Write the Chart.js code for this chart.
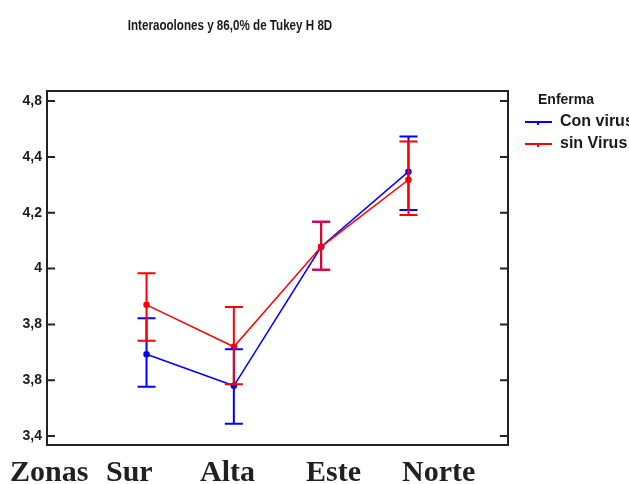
<!DOCTYPE html>
<html>
<head>
<meta charset="utf-8">
<script src="https://cdn.jsdelivr.net/npm/chart.js@4.4.0/dist/chart.umd.min.js"></script>
<style>
  body { margin: 0; background: #fff; }
  #wrap { position: relative; width: 629px; height: 484px; }
  .zona { position: absolute; top: 454px; font: bold 30px "Liberation Serif", serif; color: #231f20; }
</style>
</head>
<body>
<div id="wrap">
  <canvas id="myChart" width="629" height="484"></canvas>
  <div class="zona" style="left:10px">Zonas</div>
  <div class="zona" style="left:106px">Sur</div>
  <div class="zona" style="left:200px">Alta</div>
  <div class="zona" style="left:306px">Este</div>
  <div class="zona" style="left:402px">Norte</div>
</div>
<script>
/* DATOS */
const zonas = ['Sur', 'Alta', 'Este', 'Norte'];
const conVirus = [3.693, 3.580, 4.078, 4.347];
const conVirusLow = [3.577, 3.444, 3.996, 4.210];
const conVirusHigh = [3.822, 3.711, 4.168, 4.473];
const sinVirus = [3.870, 3.720, 4.078, 4.318];
const sinVirusLow = [3.741, 3.586, 3.996, 4.192];
const sinVirusHigh = [3.983, 3.862, 4.168, 4.455];
const yTicks = [3.4, 3.6, 3.8, 4, 4.2, 4.4, 4.6];
const yTickLabels = ['3,4', '3,8', '3,8', '4', '4,2', '4,4', '4,8'];
const titulo = 'Interaoolones y 86,0% de Tukey H 8D';
const leyendaTitulo = 'Enferma';

let puntos = (values) => values.map((v, i) => ({ x: i, y: v }));

/* MARCO, BARRAS DE ERROR, LEYENDA Y TITULO */
const extras = {
  id: 'extras',
  afterDatasetsDraw(chart) {
    const { ctx, chartArea: a, scales: { x, y } } = chart;
    ctx.save();
    // barras de error
    chart.data.datasets.forEach((ds) => {
      ctx.strokeStyle = ds.borderColor;
      ctx.lineWidth = 2;
      ds.low.forEach((lo, i) => {
        const px = x.getPixelForValue(i);
        const y1 = y.getPixelForValue(lo);
        const y2 = y.getPixelForValue(ds.high[i]);
        ctx.beginPath();
        ctx.moveTo(px, y1); ctx.lineTo(px, y2);
        ctx.moveTo(px - 9, y1); ctx.lineTo(px + 9, y1);
        ctx.moveTo(px - 9, y2); ctx.lineTo(px + 9, y2);
        ctx.stroke();
      });
    });
    // marco
    ctx.strokeStyle = '#222';
    ctx.lineWidth = 2;
    ctx.strokeRect(a.left, a.top, a.right - a.left, a.bottom - a.top);
    // marcas internas
    yTicks.forEach((t) => {
      const py = y.getPixelForValue(t);
      ctx.beginPath();
      ctx.moveTo(a.left, py); ctx.lineTo(a.left + 8, py);
      ctx.moveTo(a.right, py); ctx.lineTo(a.right - 8, py);
      ctx.stroke();
    });
    // titulo (condensado)
    ctx.fillStyle = '#1a1a1a';
    ctx.textBaseline = 'middle';
    ctx.textAlign = 'center';
    ctx.font = 'bold 14px "Liberation Sans", sans-serif';
    ctx.save();
    ctx.translate(230, 26);
    ctx.scale(0.83, 1);
    ctx.fillText(titulo, 0, 0);
    ctx.restore();
    // leyenda
    ctx.textAlign = 'left';
    ctx.font = 'bold 14px "Liberation Sans", sans-serif';
    ctx.fillText(leyendaTitulo, 538, 100);
    chart.data.datasets.forEach((ds, i) => {
      const ly = 122 + i * 22;
      ctx.strokeStyle = ds.borderColor;
      ctx.lineWidth = 2;
      ctx.beginPath();
      ctx.moveTo(525, ly); ctx.lineTo(552, ly);
      ctx.moveTo(538, ly); ctx.lineTo(538, ly + 3);
      ctx.stroke();
      ctx.font = 'bold 16px "Liberation Sans", sans-serif';
      ctx.fillText(ds.label, 560, ly);
    });
    ctx.restore();
  }
};

const ctx = document.getElementById('myChart');
const dataset = {
  datasets: [{
    label: 'Con virus',
    data: puntos(conVirus),
    low: conVirusLow,
    high: conVirusHigh,
    borderColor: '#0000ff',
    backgroundColor: '#0000ff',
    borderWidth: 1.5,
    pointRadius: 2.5,
    order: 1
  }, {
    label: 'sin Virus',
    data: puntos(sinVirus),
    low: sinVirusLow,
    high: sinVirusHigh,
    borderColor: '#ff0000',
    backgroundColor: '#ff0000',
    borderWidth: 1.5,
    pointRadius: 2.5,
    order: 0
  }]
};
const config = {
  type: 'line',
  data: dataset,
  plugins: [extras],
  options: {
    responsive: false,
    animation: false,
    layout: { padding: { top: 91, right: 121, bottom: 39, left: 0 } },
    plugins: { legend: { display: false }, title: { display: false }, tooltip: { enabled: false } },
    scales: {
      x: { type: 'linear', min: -1.14, max: 4.14, display: false },
      y: {
        min: 3.368, max: 4.636,
        grid: { display: false, drawTicks: false },
        border: { display: false },
        afterBuildTicks: (s) => { s.ticks = yTicks.map(v => ({ value: v })); },
        afterFit: (s) => { s.width = 47; },
        ticks: {
          padding: 5,
          color: '#1a1a1a',
          font: { family: '"Liberation Sans", Arial, sans-serif', size: 14, weight: 'bold' },
          callback: (v) => yTickLabels[yTicks.indexOf(v)]
        }
      }
    }
  }
};
let chart = new Chart(ctx, config);
</script>
</body>
</html>
